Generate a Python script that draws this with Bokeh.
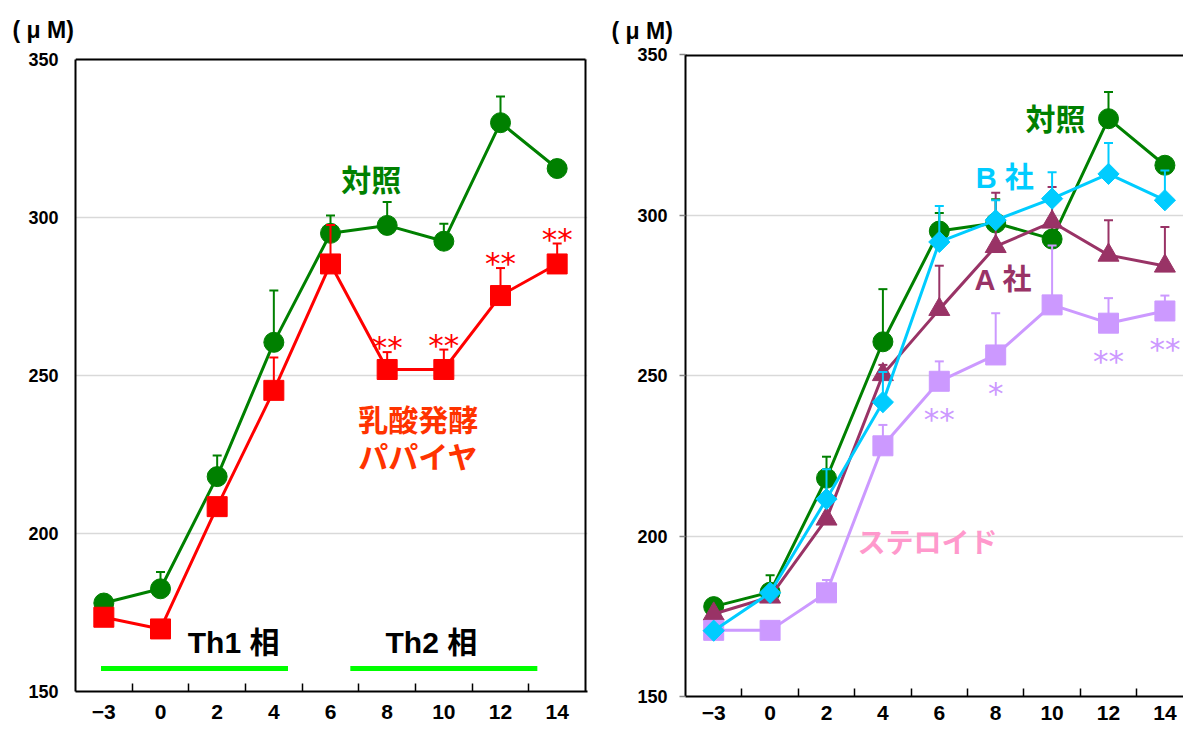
import math
from bokeh.plotting import figure
from bokeh.models import FixedTicker, Label, Range1d, ColumnDataSource
from bokeh.layouts import row
from bokeh.embed import file_html
from bokeh.resources import INLINE
from bokeh.core.properties import value

# ---------------- data ----------------
days = ["−3", "0", "2", "4", "6", "8", "10", "12", "14"]
y_ticks = [150, 200, 250, 300, 350]
unit_label = "( μ M)"

control_mean = [178, 182.5, 218, 260.5, 295, 297.5, 292.5, 330, 315.5]
control_sd = [0.5, 5.3, 6.7, 16.4, 5.6, 7.4, 5.5, 8.3, 2.5]

papaya_mean = [173.5, 169.8, 208.5, 245.3, 285.3, 251.9, 251.9, 275.3, 285.3]
papaya_sd = [0, 0, 1.5, 10.4, 12.3, 5.5, 6.3, 8.7, 6.5]
papaya_sig = ["", "", "", "", "", "**", "**", "**", "**"]

a_mean = [175.7, 181, 205.3, 250.3, 270.6, 290.2, 297.8, 287.5, 284.1]
a_sd = [0, 0, 0, 3, 13.6, 16.7, 10.9, 10.9, 12.2]

b_mean = [170.5, 182.3, 211.5, 241.7, 291.6, 298.4, 305.1, 312.8, 304.6]
b_sd = [0, 0, 9.3, 9.4, 11.2, 6.2, 8.2, 9.6, 9.3]

steroid_mean = [170.6, 170.6, 182.3, 228.1, 248.2, 256.4, 272, 266.3, 270.1]
steroid_sd = [0, 0, 4, 6.5, 6.2, 13, 18.5, 7.8, 4.8]
steroid_sig = ["", "", "", "", "**", "*", "", "**", "**"]

GREEN = "#008000"
RED = "#FF0000"
CYAN = "#00CCFF"
PURPLE = "#993366"
LAVENDER = "#CC99FF"
PINK = "#FF99CC"
ORANGE = "#FF3300"
LIME = "#00FF00"

LATIN = "Liberation Sans"
CJK = "Noto Sans CJK JP"
MIXED = "Liberation Sans, Noto Sans CJK JP"
Y_MIN, Y_MAX = 150, 350


def make_fig(frame_w, frame_h, b_left, b_right, x_end, y_end, boxed,
             t_offset, t_standoff, x_standoff):
    p = figure(frame_width=frame_w, frame_height=frame_h,
               min_border_top=54, min_border_left=b_left,
               min_border_right=b_right, min_border_bottom=20,
               x_range=Range1d(-0.5, x_end), y_range=Range1d(Y_MIN, y_end),
               output_backend="svg", toolbar_location=None,
               background_fill_color="white", border_fill_color="white")
    p.outline_line_color = None
    p.xgrid.visible = False
    p.ygrid.grid_line_color = "#D9D9D9"
    p.ygrid.grid_line_width = 1.5

    xa = p.xaxis[0]
    xa.ticker = FixedTicker(ticks=list(range(len(days))),
                            minor_ticks=[i + 0.5 for i in range(len(days) - 1)])
    xa.major_label_overrides = {i: d for i, d in enumerate(days)}
    xa.major_tick_in = 0
    xa.major_tick_out = 0
    xa.minor_tick_in = 8
    xa.minor_tick_out = 0
    xa.minor_tick_line_color = "black"
    xa.minor_tick_line_width = 1.5
    xa.axis_line_color = "black"
    xa.axis_line_width = 2
    xa.major_label_standoff = x_standoff
    xa.major_label_text_font = LATIN
    xa.major_label_text_font_style = "bold"
    xa.major_label_text_font_size = "21px"
    xa.major_label_text_color = "black"

    ya = p.yaxis[0]
    ya.ticker = FixedTicker(ticks=y_ticks, minor_ticks=[])
    ya.bounds = (Y_MIN, Y_MAX)
    ya.major_tick_in = 0
    ya.minor_tick_in = 0
    ya.minor_tick_out = 0
    ya.axis_line_color = "black"
    ya.axis_line_width = 2
    ya.major_label_text_font = LATIN
    ya.major_label_text_font_style = "bold"
    ya.major_label_text_font_size = "18px"
    ya.major_label_text_color = "black"
    if boxed:
        ya.major_tick_out = 0
        ya.major_label_standoff = 17
        # top and right sides of the box
        p.segment(x0=[-0.5, len(days) - 0.5], y0=[Y_MAX, Y_MIN],
                  x1=[len(days) - 0.5, len(days) - 0.5], y1=[Y_MAX, Y_MAX],
                  line_color="black", line_width=2)
    else:
        ya.major_tick_out = 6
        ya.major_tick_line_color = "#888888"
        ya.major_tick_line_width = 1.5
        ya.major_label_standoff = 12
        p.segment(x0=[-0.5], y0=[Y_MAX], x1=[x_end], y1=[Y_MAX],
                  line_color="black", line_width=4)

    p.title.text = unit_label
    p.title.align = "left"
    p.title.offset = t_offset
    p.title.standoff = t_standoff
    p.title.text_font = LATIN
    p.title.text_font_style = "bold"
    p.title.text_font_size = "23px"
    p.title.text_color = "black"
    return p


def series(p, mean, sd, color, marker, size, angle=0.0):
    x = list(range(len(mean)))
    p.line(x, mean, line_color=color, line_width=3)
    ex = [i for i in x if sd[i] > 0]
    lo = [mean[i] for i in ex]
    hi = [mean[i] + sd[i] for i in ex]
    p.segment(x0=ex, y0=lo, x1=ex, y1=hi, line_color=color, line_width=2)
    p.scatter(ex, hi, marker="dash", size=9, line_color=color, line_width=2)
    p.scatter(x, mean, marker=marker, size=size, fill_color=color,
              line_color=color, angle=angle)


def stars(p, sig, ys, color):
    idx = [i for i, s in enumerate(sig) if s]
    src = ColumnDataSource(dict(x=idx, y=[ys[i] for i in idx], t=[sig[i] for i in idx]))
    p.text(x="x", y="y", text="t", source=src, text_color=color,
           text_font=value("DejaVu Sans"), text_font_size=value("31px"),
           text_align="center", text_baseline="middle")


def label(p, x, y, text, color, size="30px", font=CJK):
    p.add_layout(Label(x=x, y=y, text=text, text_color=color, text_font=font,
                       text_font_style="bold", text_font_size=size,
                       text_align="center", text_baseline="middle"))


# ---------------- left panel ----------------
# frame spans 54..691 px; 350 sits 5 px below the frame top (3.16 px per unit)
p1 = make_fig(512, 637, 75, 13, 8.5 + 2 / 56.67, Y_MAX + 5 / 3.16, True, -63, 23, 13)
series(p1, control_mean, control_sd, GREEN, "circle", 20)
series(p1, papaya_mean, papaya_sd, RED, "square", 20)
stars(p1, papaya_sig, [m + s + 1.5 for m, s in zip(papaya_mean, papaya_sd)], RED)
p1.segment(x0=[-0.05, 4.35], y0=[157.3, 157.3], x1=[3.25, 7.65], y1=[157.3, 157.3],
           line_color=LIME, line_width=5)
label(p1, 4.72, 312.5, "対照", GREEN)
label(p1, 5.55, 236.4, "乳酸発酵", ORANGE)
label(p1, 5.55, 224.7, "パパイヤ", ORANGE)
label(p1, 2.29, 165.5, "Th1 相", "black", "30px", MIXED)
label(p1, 5.78, 165.5, "Th2 相", "black", "30px", MIXED)

# ---------------- right panel ----------------
x_end2 = -0.5 + 498 / 56.4
p2 = make_fig(498, 642, 85, 0, x_end2, Y_MAX, False, -74, 22, 9)
series(p2, control_mean, control_sd, GREEN, "circle", 20)
series(p2, a_mean, a_sd, PURPLE, "triangle", 21)
series(p2, steroid_mean, steroid_sd, LAVENDER, "square", 20)
series(p2, b_mean, b_sd, CYAN, "square", 15, angle=math.pi / 4)
stars(p2, steroid_sig, [m - 11.8 for m in steroid_mean], LAVENDER)
label(p2, 6.06, 330.6, "対照", GREEN)
label(p2, 5.16, 311.6, "B 社", CYAN, "29px", MIXED)
label(p2, 5.14, 279.6, "A 社", PURPLE, "29px", MIXED)
label(p2, 3.79, 198.3, "ステロイド", PINK, "28px", CJK)

layout = row(p1, p2)

open("out.html", "w").write(file_html(layout, INLINE))
